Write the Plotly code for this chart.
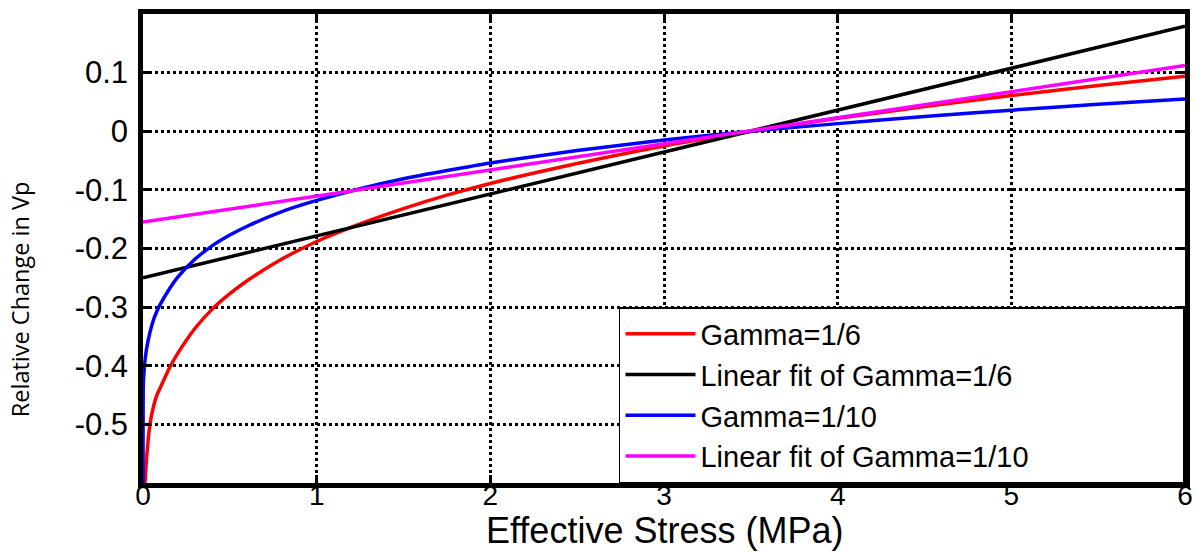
import plotly.graph_objects as go

# Effective stress (MPa) sample points for the power-law curves
stress = [0.0005, 0.002, 0.006, 0.01, 0.02, 0.04, 0.06, 0.08, 0.1, 0.15, 0.2, 0.3,
          0.4, 0.5, 0.6, 0.8, 1.0, 1.25, 1.5, 1.75, 2.0, 2.5, 3.0, 3.5, 4.0, 4.5,
          5.0, 5.5, 6.0]

# Relative change in Vp, gamma = 1/6
vp_gamma6 = [-0.72, -0.68, -0.63, -0.61, -0.56, -0.50, -0.47, -0.45, -0.437, -0.405,
             -0.379, -0.336, -0.303, -0.277, -0.255, -0.218, -0.188, -0.158, -0.132,
             -0.109, -0.089, -0.055, -0.025, 0.0, 0.022, 0.042, 0.061, 0.078, 0.094]

# Relative change in Vp, gamma = 1/10
vp_gamma10 = [-0.65, -0.43, -0.41, -0.395, -0.372, -0.343, -0.322, -0.307, -0.295,
              -0.27, -0.249, -0.218, -0.195, -0.177, -0.162, -0.137, -0.118, -0.098,
              -0.081, -0.067, -0.054, -0.033, -0.015, 0.0, 0.013, 0.025, 0.036,
              0.046, 0.055]

# Linear fits (end points over the stress range)
fit_stress = [0.0, 6.0]
fit_gamma6 = [-0.250, 0.179]
fit_gamma10 = [-0.155, 0.112]

series_names = ["Gamma=1/6", "Linear fit of Gamma=1/6",
                "Gamma=1/10", "Linear fit of Gamma=1/10"]
series_colors = ["#ff0000", "#000000", "#0000ff", "#ff00ff"]

x_ticks = [0, 1, 2, 3, 4, 5, 6]
y_ticks = [-0.5, -0.4, -0.3, -0.2, -0.1, 0, 0.1]
y_tick_text = ["-0.5", "-0.4", "-0.3", "-0.2", "-0.1", "0", "0.1"]

FONT = "Liberation Sans, Arial, Helvetica, sans-serif"

fig = go.Figure()
data = [(stress, vp_gamma6), (fit_stress, fit_gamma6),
        (stress, vp_gamma10), (fit_stress, fit_gamma10)]
for (xs, ys), name, color in zip(data, series_names, series_colors):
    fig.add_trace(go.Scatter(x=xs, y=ys, mode="lines", name=name,
                             line=dict(color=color, width=3.5, shape="spline",
                                       smoothing=0.6)))

axis_common = dict(
    showline=True, linecolor="black", linewidth=4.5, mirror="ticks",
    ticks="inside", ticklen=8, tickwidth=3, tickcolor="black",
    showgrid=True, gridcolor="black", gridwidth=3, griddash="dot",
    zeroline=False, automargin=False,
)

fig.update_xaxes(range=[0, 6], tickvals=x_ticks,
                 tickfont=dict(family=FONT, size=28, color="black"),
                 ticklabelstandoff=-16,
                 **axis_common)
fig.update_yaxes(range=[-0.6, 0.2], tickvals=y_ticks, ticktext=y_tick_text,
                 tickfont=dict(family=FONT, size=31, color="black"),
                 ticklabelstandoff=4, **axis_common)

# Axis titles placed as paper annotations
fig.add_annotation(text="Effective Stress (MPa)", xref="paper", yref="paper",
                   x=0.5, y=-0.1023, xanchor="center", yanchor="middle",
                   showarrow=False,
                   font=dict(family=FONT, size=36, color="black"))
fig.add_annotation(text="Relative Change in Vp", xref="paper", yref="paper",
                   x=-0.118, y=0.392, xanchor="center", yanchor="middle",
                   textangle=-90, showarrow=False,
                   font=dict(family="Open Sans, sans-serif", size=23.5, color="black"))

fig.update_layout(
    width=1198, height=552,
    margin=dict(l=143, r=13, t=14, b=69),
    paper_bgcolor="white", plot_bgcolor="white",
    showlegend=True,
    legend=dict(orientation="h", x=0.4568, y=0.0, xanchor="left", yanchor="bottom",
                entrywidth=478, entrywidthmode="pixels",
                bgcolor="white", bordercolor="black", borderwidth=1.5,
                itemwidth=70, tracegroupgap=0,
                font=dict(family=FONT, size=29, color="black")),
)

fig.write_html("out.html")
